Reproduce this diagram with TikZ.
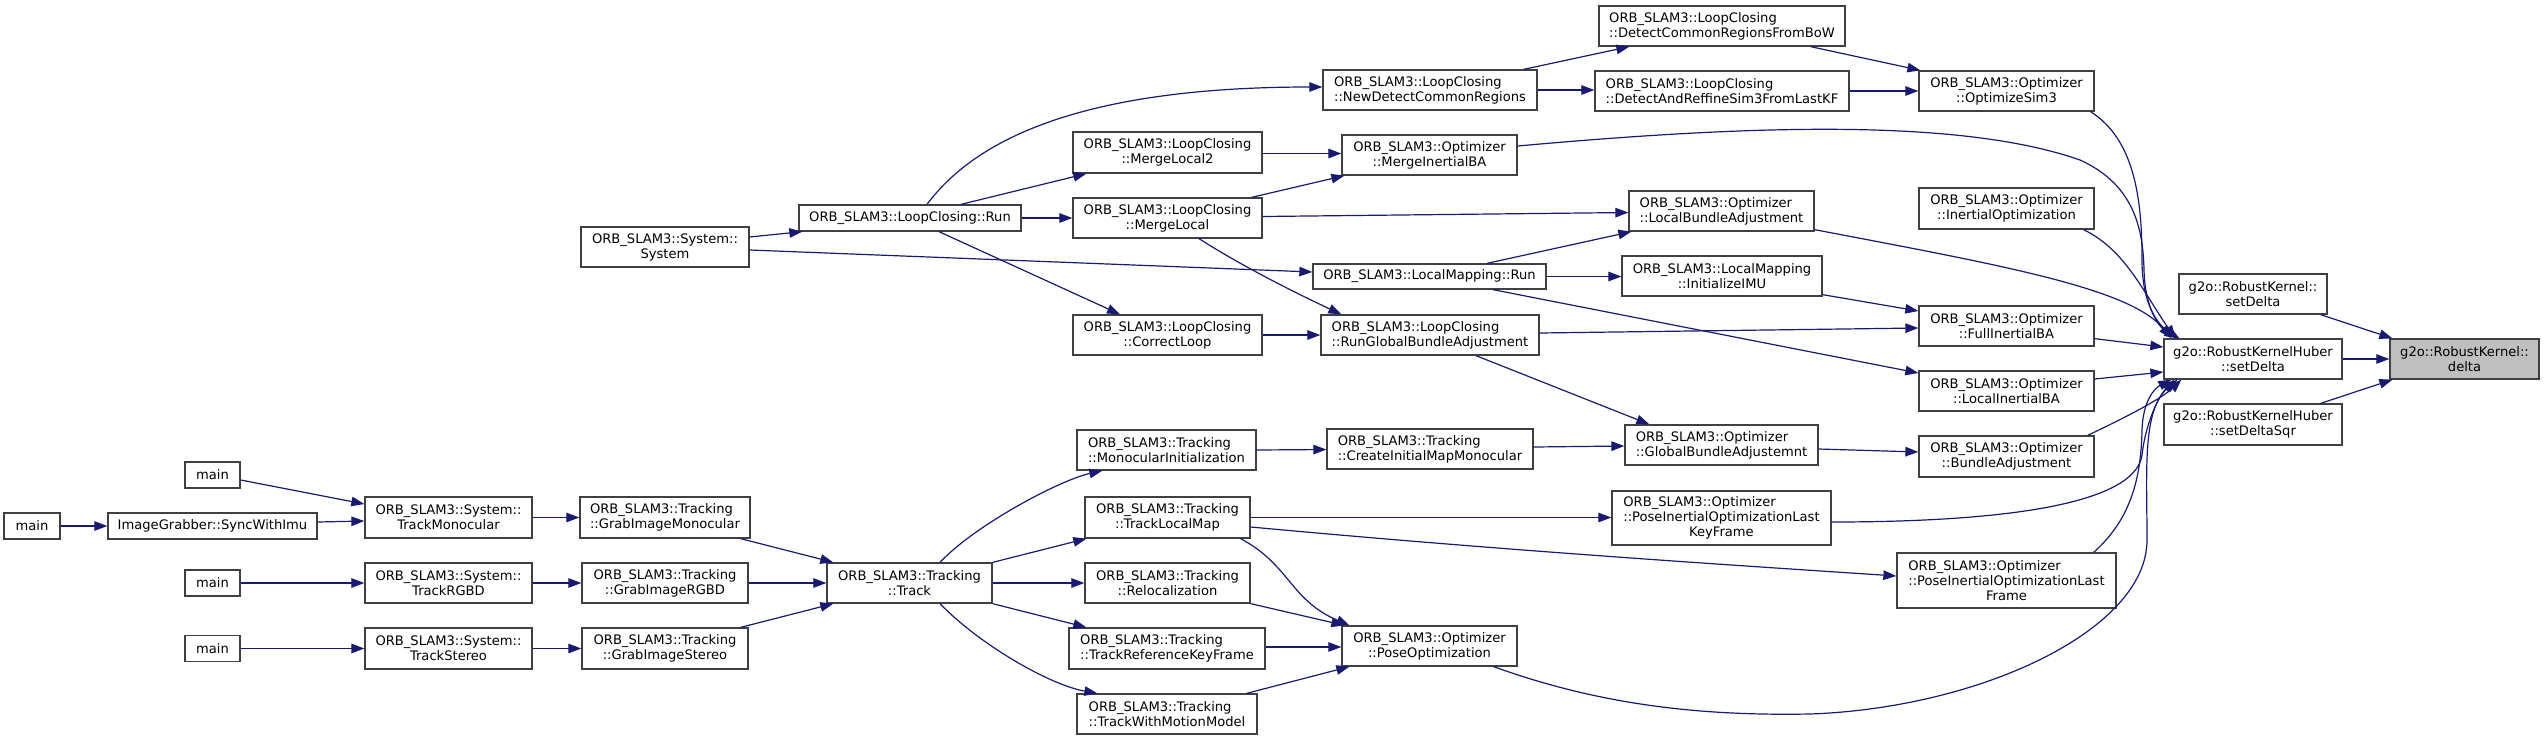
\documentclass[tikz,border=0pt]{standalone}
\usepackage{fontspec}
\usepackage{calc}
\setmainfont{DejaVu Sans}
\usetikzlibrary{arrows.meta}
\definecolor{edgec}{HTML}{191970}
\definecolor{boxc}{HTML}{404040}
\definecolor{hlc}{HTML}{BFBFBF}
\newcommand{\OS}{ORB\_SLAM3}
\newcommand{\mknode}[7]{\node[#1, minimum width=#5pt, minimum height=#6pt] (#2) at (#3,#4) {#7};}
\begin{document}
\begin{tikzpicture}[x=1pt,y=-1pt,
 box/.style={draw=boxc, line width=1.3pt, fill=white, inner xsep=1pt, inner ysep=0pt, align=center, font=\fontsize{13.1}{15}\selectfont, text=black},
 lbox/.style={box, align=left},
 hbox/.style={box, fill=hlc},
 edge/.style={draw=edgec, line width=1.2pt, -{Triangle[length=13pt,width=9.5pt]}}]
\useasboundingbox (0,0) rectangle (2544,740);
% nodes
\mknode{box}{m0}{32}{526}{56}{26}{main}
\mknode{box}{sync}{212.5}{526}{209}{26}{ImageGrabber::SyncWithImu}
\mknode{box}{m1}{212.5}{475}{55}{26}{main}
\mknode{box}{m2}{212.5}{583}{55}{26}{main}
\mknode{box}{m3}{212.5}{648.5}{55}{26}{main}
\mknode{box}{tmono}{448.5}{517.5}{167}{41}{\OS::System::\\TrackMonocular}
\mknode{box}{trgbd}{448.5}{583}{167}{40}{\OS::System::\\TrackRGBD}
\mknode{box}{tster}{448.5}{648.5}{167}{41}{\OS::System::\\TrackStereo}
\mknode{lbox}{gmono}{665}{517.5}{170}{41}{\OS::Tracking\\::GrabImageMonocular}
\mknode{box}{grgbd}{665}{583}{166}{40}{\OS::Tracking\\::GrabImageRGBD}
\mknode{box}{gster}{665}{648.5}{166}{41}{\OS::Tracking\\::GrabImageStereo}
\mknode{box}{track}{909.5}{583}{165}{40}{\OS::Tracking\\::Track}
\mknode{box}{sys}{665}{247}{168}{40}{\OS::System::\\System}
\mknode{box}{lcrun}{910}{218}{222}{26}{\OS::LoopClosing::Run}
\mknode{box}{ml2}{1167.5}{152.5}{189}{41}{\OS::LoopClosing\\::MergeLocal2}
\mknode{box}{ml}{1167.5}{218}{189}{40}{\OS::LoopClosing\\::MergeLocal}
\mknode{box}{cl}{1167.5}{335}{189}{40}{\OS::LoopClosing\\::CorrectLoop}
\mknode{lbox}{minit}{1166.5}{450}{179}{40}{\OS::Tracking\\::MonocularInitialization}
\mknode{box}{tlm}{1167.5}{517.5}{165}{41}{\OS::Tracking\\::TrackLocalMap}
\mknode{box}{reloc}{1167.5}{583}{165}{40}{\OS::Tracking\\::Relocalization}
\mknode{lbox}{trkf}{1167}{648.5}{196}{41}{\OS::Tracking\\::TrackReferenceKeyFrame}
\mknode{lbox}{twmm}{1167}{714}{180}{40}{\OS::Tracking\\::TrackWithMotionModel}
\mknode{lbox}{ndcr}{1430}{90}{214}{40}{\OS::LoopClosing\\::NewDetectCommonRegions}
\mknode{box}{miba}{1429.5}{155}{175}{40}{\OS::Optimizer\\::MergeInertialBA}
\mknode{box}{lmrun}{1429.5}{276.5}{233}{25}{\OS::LocalMapping::Run}
\mknode{lbox}{rgba}{1430}{335}{218}{40}{\OS::LoopClosing\\::RunGlobalBundleAdjustment}
\mknode{lbox}{cimm}{1430}{449}{206}{40}{\OS::Tracking\\::CreateInitialMapMonocular}
\mknode{box}{popt}{1429.5}{646}{175}{40}{\OS::Optimizer\\::PoseOptimization}
\mknode{lbox}{dcrfb}{1722}{26}{246}{40}{\OS::LoopClosing\\::DetectCommonRegionsFromBoW}
\mknode{lbox}{dars3}{1722}{91}{254}{40}{\OS::LoopClosing\\::DetectAndReffineSim3FromLastKF}
\mknode{lbox}{lba}{1721.5}{211}{185}{40}{\OS::Optimizer\\::LocalBundleAdjustment}
\mknode{box}{iimu}{1722}{276}{200}{40}{\OS::LocalMapping\\::InitializeIMU}
\mknode{lbox}{gba}{1721.5}{445}{193}{40}{\OS::Optimizer\\::GlobalBundleAdjustemnt}
\mknode{box}{piolkf}{1721.5}{518}{219}{54}{\makebox[\widthof{::PoseInertialOptimizationLast}][l]{\OS::Optimizer}\\::PoseInertialOptimizationLast\\KeyFrame}
\mknode{box}{osim3}{2006.5}{91}{175}{40}{\OS::Optimizer\\::OptimizeSim3}
\mknode{box}{iopt}{2006.5}{208.5}{175}{41}{\OS::Optimizer\\::InertialOptimization}
\mknode{box}{fiba}{2006.5}{326}{175}{40}{\OS::Optimizer\\::FullInertialBA}
\mknode{box}{liba}{2006.5}{391}{175}{40}{\OS::Optimizer\\::LocalInertialBA}
\mknode{box}{ba}{2006.5}{456.5}{175}{41}{\OS::Optimizer\\::BundleAdjustment}
\mknode{box}{piolf}{2006.5}{580.5}{219}{55}{\makebox[\widthof{::PoseInertialOptimizationLast}][l]{\OS::Optimizer}\\::PoseInertialOptimizationLast\\Frame}
\mknode{box}{rksd}{2253}{294}{148}{40}{g2o::RobustKernel::\\setDelta}
\mknode{box}{huber}{2253}{359}{178}{40}{g2o::RobustKernelHuber\\::setDelta}
\mknode{box}{sdsqr}{2253}{424.5}{178}{41}{g2o::RobustKernelHuber\\::setDeltaSqr}
\mknode{hbox}{delta}{2464.5}{359}{149}{40}{g2o::RobustKernel::\\delta}
% edges
\draw[edge] ([shift={(0,-10)}]sys.east) -- ([shift={(4,0)}]lcrun.south west);
\draw[edge] ([shift={(0,3)}]sys.east) -- ([shift={(0,-4.5)}]lmrun.west);
\draw[edge] ([shift={(17,0)}]lcrun.north) .. controls (975,140) and (1080,87) .. ([shift={(0,-3)}]ndcr.west);
\draw[edge] ([shift={(51,0)}]lcrun.north) -- ([shift={(14,0)}]ml2.south west);
\draw[edge] (lcrun.east) -- (ml.west);
\draw[edge] ([shift={(29,0)}]lcrun.south) -- ([shift={(-47.5,0)}]cl.north);
\draw[edge] ([shift={(-14,0)}]ndcr.north east) -- ([shift={(31,0)}]dcrfb.south west);
\draw[edge] (ndcr.east) -- ([shift={(0,-1)}]dars3.west);
\draw[edge] ([shift={(0,1)}]ml2.east) -- ([shift={(0,-1.5)}]miba.west);
\draw[edge] ([shift={(-11,0)}]ml.north east) -- ([shift={(3,0)}]miba.south west);
\draw[edge] ([shift={(0,-1.5)}]ml.east) -- ([shift={(0,1.5)}]lba.west);
\draw[edge] ([shift={(31.5,0)}]ml.south) .. controls (1245,268) and (1300,295) .. ([shift={(21,0)}]rgba.north west);
\draw[edge] (cl.east) -- (rgba.west);
\draw[edge] ([shift={(57.5,0)}]lmrun.north) -- ([shift={(3,0)}]lba.south west);
\draw[edge] (lmrun.east) -- ([shift={(0,0.5)}]iimu.west);
\draw[edge] ([shift={(63.5,0)}]lmrun.south) -- ([shift={(0,-18)}]liba.west);
\draw[edge] ([shift={(0,-2)}]rgba.east) -- ([shift={(0,2)}]fiba.west);
\draw[edge] ([shift={(0,-2)}]iimu.south east) -- ([shift={(0,-15)}]fiba.west);
\draw[edge] ([shift={(46,0)}]rgba.south) -- ([shift={(25,0)}]gba.north west);
\draw[edge] ([shift={(-35,0)}]dcrfb.south east) -- ([shift={(2,0)}]osim3.north west);
\draw[edge] (dars3.east) -- (osim3.west);
% into Huber::setDelta
\draw[edge] ([shift={(-4,0)}]osim3.south east) .. controls (2135,140) and (2142,200) .. (2142,260) .. controls (2142,305) and (2158,325) .. ([shift={(16,0)}]huber.north west);
\draw[edge] ([shift={(0,-9)}]miba.east) .. controls (1750,125) and (1960,118) .. (2080,160) .. controls (2135,185) and (2143,230) .. (2144,270) .. controls (2145,310) and (2160,328) .. ([shift={(14,0)}]huber.north west);
\draw[edge] ([shift={(0,-2)}]lba.south east) .. controls (2000,265) and (2130,288) .. ([shift={(8,0)}]huber.north west);
\draw[edge] ([shift={(-11,0)}]iopt.south east) .. controls (2125,250) and (2142,290) .. ([shift={(12,0)}]huber.north west);
\draw[edge] ([shift={(0,-8)}]fiba.south east) -- ([shift={(0,-12)}]huber.west);
\draw[edge] ([shift={(0,-12)}]liba.east) -- ([shift={(0,13)}]huber.west);
\draw[edge] ([shift={(-7,0)}]ba.north east) .. controls (2120,420) and (2160,400) .. ([shift={(18,0)}]huber.south west);
\draw[edge] ([shift={(0,4)}]piolkf.east) .. controls (2000,522) and (2135,505) .. (2142,455) .. controls (2146,420) and (2160,395) .. ([shift={(11,0)}]huber.south west);
\draw[edge] ([shift={(-23,0)}]piolf.north east) .. controls (2130,520) and (2141,480) .. (2142,430) .. controls (2143,400) and (2155,388) .. ([shift={(8,0)}]huber.south west);
\draw[edge] ([shift={(-24,0)}]popt.south east) .. controls (1600,705) and (1700,716) .. (1810,714) .. controls (1980,708) and (2147,630) .. (2147,540) .. controls (2147,470) and (2142,410) .. ([shift={(14,0)}]huber.south west);
\draw[edge] (huber.east) -- (delta.west);
\draw[edge] ([shift={(-7,0)}]rksd.south east) -- ([shift={(3,0)}]delta.north west);
\draw[edge] ([shift={(-22,0)}]sdsqr.north east) -- ([shift={(3,0)}]delta.south west);
% tracking part
\draw[edge] ([shift={(0,4)}]gba.east) -- ([shift={(0,-4.5)}]ba.west);
\draw[edge] ([shift={(0,-2)}]cimm.east) -- ([shift={(0,1)}]gba.west);
\draw[edge] (minit.east) -- ([shift={(0,0.5)}]cimm.west);
\draw[edge] ([shift={(30.5,0)}]track.north) .. controls (975,525) and (1060,480) .. ([shift={(26,0)}]minit.south west);
\draw[edge] (track.north east) -- ([shift={(2,0)}]tlm.south west);
\draw[edge] (track.east) -- (reloc.west);
\draw[edge] (track.south east) -- ([shift={(18,0)}]trkf.north west);
\draw[edge] ([shift={(30.5,0)}]track.south) .. controls (980,645) and (1050,685) .. ([shift={(21,0)}]twmm.north west);
\draw[edge] (tlm.east) -- ([shift={(0,-0.5)}]piolkf.west);
\draw[edge] ([shift={(0,9.5)}]tlm.east) .. controls (1500,550) and (1700,563) .. ([shift={(0,-4.5)}]piolf.west);
\draw[edge] ([shift={(-10,0)}]tlm.south east) .. controls (1290,565) and (1290,600) .. ([shift={(8,0)}]popt.north west);
\draw[edge] (reloc.south east) -- ([shift={(3,0)}]popt.north west);
\draw[edge] ([shift={(0,-1.5)}]trkf.east) -- ([shift={(0,1)}]popt.west);
\draw[edge] ([shift={(-11,0)}]twmm.north east) -- ([shift={(8,0)}]popt.south west);
\draw[edge] ([shift={(-10,0)}]gmono.south east) -- ([shift={(7,0)}]track.north west);
\draw[edge] (grgbd.east) -- (track.west);
\draw[edge] ([shift={(-8,0)}]gster.north east) -- ([shift={(7,0)}]track.south west);
\draw[edge] (tmono.east) -- (gmono.west);
\draw[edge] (trgbd.east) -- (grgbd.west);
\draw[edge] (tster.east) -- (gster.west);
\draw[edge] ([shift={(0,5)}]m1.east) -- ([shift={(0,-13.5)}]tmono.west);
\draw[edge] ([shift={(0,-4)}]sync.east) -- ([shift={(0,3.5)}]tmono.west);
\draw[edge] (m0.east) -- (sync.west);
\draw[edge] (m2.east) -- (trgbd.west);
\draw[edge] (m3.east) -- (tster.west);
\end{tikzpicture}
\end{document}
